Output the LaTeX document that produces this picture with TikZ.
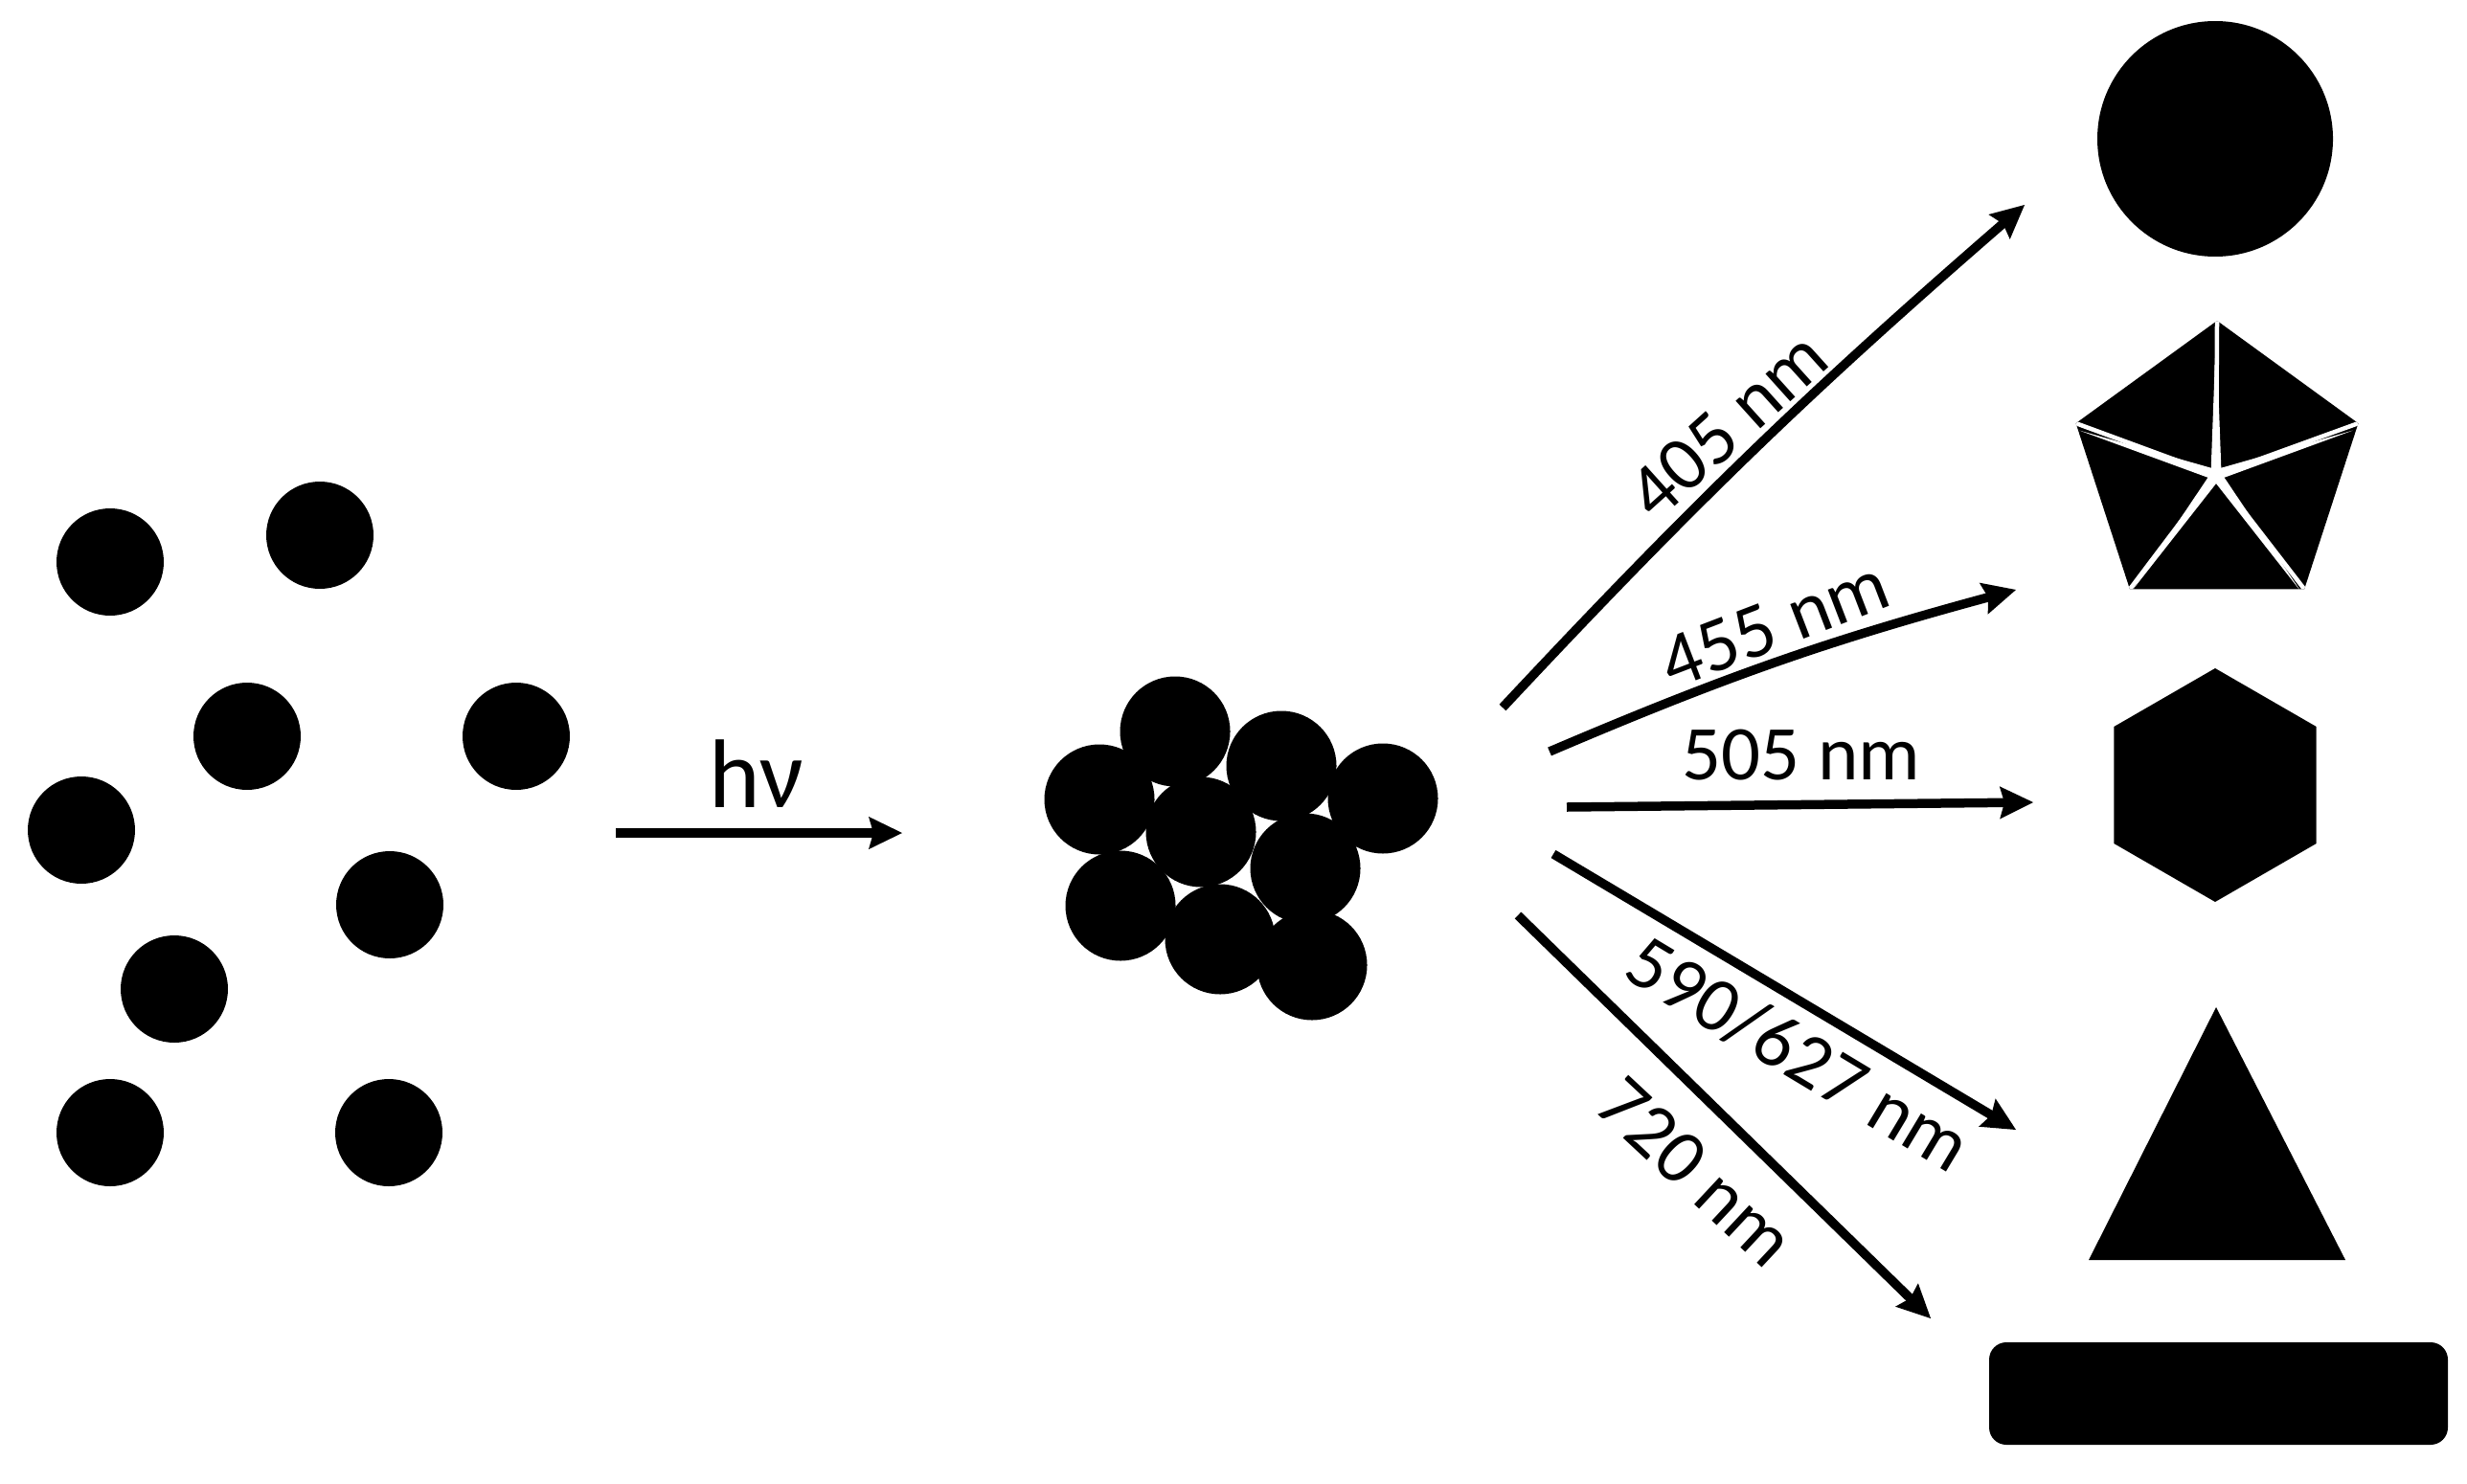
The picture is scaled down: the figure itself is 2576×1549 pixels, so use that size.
\documentclass[tikz,border=0pt]{standalone}
\usepackage{fontspec}
\setmainfont{Carlito}
\usetikzlibrary{calc}
\tikzset{
  dot/.style={circle, fill=black, inner sep=0pt, minimum size=11.2mm},
  cdot/.style={circle, fill=black, inner sep=0pt, minimum size=11.5mm},
  arrline/.style={line width=0.95mm, shorten >=2.6mm},
  lbl/.style={font=\fontsize{23}{27}\selectfont, inner sep=0pt},
}
% #1 = tip coordinate, #2 = point behind the tip giving the direction
\newcommand\myhead[2]{%
  \fill[black] (#1) -- ($(#1)!3.9mm!-26:(#2)$) -- ($(#1)!3.0mm!(#2)$)
    -- ($(#1)!3.9mm!26:(#2)$) -- cycle;}
\begin{document}
\begin{tikzpicture}[x=0.1mm,y=0.1mm]
\useasboundingbox (0,0) rectangle (2576,-1549);
% scattered particles
\node[dot] (d1) at (115,-587) {};
\node[dot] (d2) at (334,-559) {};
\node[dot] (d3) at (258,-769) {};
\node[dot] (d4) at (539,-769) {};
\node[dot] (d5) at (85,-867) {};
\node[dot] (d6) at (407,-945) {};
\node[dot] (d7) at (182,-1033) {};
\node[dot] (d8) at (115,-1183) {};
\node[dot] (d9) at (406,-1183) {};
% light arrow
\coordinate (hvs) at (643,-870);
\coordinate (hve) at (942,-870);
\draw[arrline] (hvs) -- (hve);
\myhead{hve}{hvs}
\node[font=\fontsize{29}{32}\selectfont, inner sep=0pt] (hv) at (790,-808) {hν};
% cluster
\node[cdot] (c1) at (1227,-764) {};
\node[cdot] (c2) at (1148,-835) {};
\node[cdot] (c3) at (1338,-800) {};
\node[cdot] (c4) at (1444,-834) {};
\node[cdot] (c5) at (1254,-869) {};
\node[cdot] (c6) at (1363,-907) {};
\node[cdot] (c7) at (1170,-946) {};
\node[cdot] (c8) at (1274,-981) {};
\node[cdot] (c9) at (1370,-1008) {};
% product shapes
\node[circle, fill=black, inner sep=0pt, minimum size=24.6mm] (sph) at (2313,-145) {};
\coordinate (pc) at (2315,-490);
\fill[black] ($(pc)+(90:155)$) coordinate (p1) -- ($(pc)+(18:155)$) coordinate (p2)
  -- ($(pc)+(-54:155)$) coordinate (p3) -- ($(pc)+(-126:155)$) coordinate (p4)
  -- ($(pc)+(162:155)$) coordinate (p5) -- cycle;
\begin{scope}
\clip (p1) -- (p2) -- (p3) -- (p4) -- (p5) -- cycle;
\coordinate (sc) at (2314,-496);
\foreach \v in {p1,p2,p3,p4,p5} \draw[white, line width=0.45mm] (sc) -- (\v);
\fill[white] ($(sc)+(90:150)$) -- ($(sc)+(54:9)$) -- ($(sc)+(18:150)$) -- ($(sc)+(-18:9)$)
  -- ($(sc)+(-54:150)$) -- ($(sc)+(-90:9)$) -- ($(sc)+(-126:150)$) -- ($(sc)+(-162:9)$)
  -- ($(sc)+(162:150)$) -- ($(sc)+(126:9)$) -- cycle;
\end{scope}
\coordinate (hc) at (2313,-820);
\fill[black] ($(hc)+(90:122)$) -- ($(hc)+(30:122)$) -- ($(hc)+(-30:122)$) -- ($(hc)+(-90:122)$)
  -- ($(hc)+(-150:122)$) -- ($(hc)+(150:122)$) -- cycle;
\fill[black] (2314,-1052) -- (2449,-1316) -- (2181,-1316) -- cycle;
\fill[black, rounded corners=1.8mm] (2077,-1402) rectangle (2556,-1509);
% emission arrows
\coordinate (a1s) at (1569,-739); \coordinate (a1e) at (2114,-214);
\coordinate (a2s) at (1618,-785); \coordinate (a2e) at (2105,-616);
\coordinate (a3s) at (1636,-843); \coordinate (a3e) at (2123,-838);
\coordinate (a4s) at (1622,-892); \coordinate (a4e) at (2105,-1180);
\coordinate (a5s) at (1585,-956); \coordinate (a5e) at (2016,-1377);
\coordinate (a1b) at ($(a1e)!1!-3:(a1s)$);
\coordinate (a2b) at ($(a2e)!1!-4:(a2s)$);
\draw[arrline] (a1s) to[bend left=3] (a1e);
\myhead{a1e}{a1b}
\draw[arrline] (a2s) to[bend left=4] (a2e);
\myhead{a2e}{a2b}
\draw[arrline] (a3s) -- (a3e);
\myhead{a3e}{a3s}
\draw[arrline] (a4s) -- (a4e);
\myhead{a4e}{a4s}
\draw[arrline] (a5s) -- (a5e);
\myhead{a5e}{a5s}
\node[lbl, rotate=42] (l1) at (1804,-444) {405 nm};
\node[lbl, rotate=21] (l2) at (1853,-652) {455 nm};
\node[lbl] (l3) at (1881,-789) {505 nm};
\node[lbl, rotate=-31] (l4) at (1878,-1101) {590/627 nm};
\node[lbl, rotate=-43] (l5) at (1771,-1224) {720 nm};
\end{tikzpicture}
\end{document}
